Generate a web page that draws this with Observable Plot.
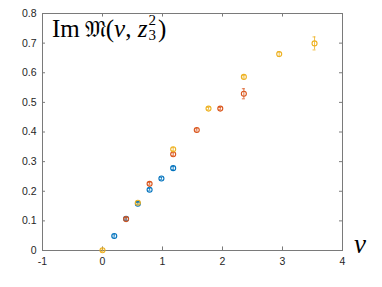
<!DOCTYPE html>
<html><head><meta charset="utf-8">
<script src="https://cdn.jsdelivr.net/npm/d3@7"></script>
<script src="https://cdn.jsdelivr.net/npm/@observablehq/plot@0.6"></script>
<style>
body{margin:0;background:#fff;}
#wrap{position:relative;width:382px;height:287px;}
#title{position:absolute;left:52px;top:13px;font-family:"Liberation Serif","DejaVu Serif",serif;font-size:25px;color:#000;white-space:nowrap;line-height:1;}
#title .fk{font-family:"DejaVu Serif",serif;font-size:23px;margin-left:5px;}
#title .it{font-style:italic;}
#title .ss{display:inline-block;vertical-align:-3px;font-size:15px;line-height:1;margin-left:1px;margin-right:2px;}
#title .ss span{display:block;}
#xl{position:absolute;left:354px;top:229px;font-family:"Liberation Serif","DejaVu Serif",serif;font-style:italic;font-size:27px;}
</style></head>
<body><div id="wrap"><div id="title">Im<span class="fk">𝔐</span>(<span class="it">ν</span>, <span class="it">z</span><span class="ss"><span>2</span><span>3</span></span>)</div><div id="xl">ν</div></div>
<script>
const xTicks = [-1, 0, 1, 2, 3, 4];
const yTicks = [0, 0.1, 0.2, 0.3, 0.4, 0.5, 0.6, 0.7, 0.8];
const blueX = [0.196, 0.393, 0.589, 0.785, 0.982, 1.178];
const blueY = [0.049, 0.107, 0.158, 0.205, 0.243, 0.278];
const blueE = [0.004, 0.004, 0.004, 0.004, 0.004, 0.005];
const redX = [0.393, 0.785, 1.178, 1.571, 1.963, 2.356];
const redY = [0.106, 0.225, 0.325, 0.407, 0.479, 0.529];
const redE = [0.004, 0.004, 0.005, 0.004, 0.004, 0.017];
const yelX = [0, 0.589, 1.178, 1.767, 2.356, 2.945, 3.534];
const yelY = [0.001, 0.161, 0.342, 0.479, 0.586, 0.663, 0.699];
const yelE = [0.004, 0.004, 0.005, 0.004, 0.004, 0.008, 0.022];
const colors = {blue: "#0072BD", red: "#D95319", yellow: "#EDB120"};

const pts = [];
blueX.forEach((x,i)=>pts.push({s:"blue", x, y: blueY[i], e: blueE[i]}));
redX.forEach((x,i)=>pts.push({s:"red", x, y: redY[i], e: redE[i]}));
yelX.forEach((x,i)=>pts.push({s:"yellow", x, y: yelY[i], e: yelE[i]}));

const axisColor = "#7a7a7a";
const tl = 0.012, tlx = 0.05, cap = 0.025;
const chart = Plot.plot({
  width: 382, height: 287,
  marginLeft: 42, marginRight: 40, marginTop: 13, marginBottom: 37,
  x: {domain: [-1, 4], label: null},
  y: {domain: [0, 0.8], label: null},
  style: {fontFamily: "Helvetica, Arial, 'Liberation Sans', sans-serif", fontSize: "10.5px", color: "#262626"},
  marks: [
    Plot.frame({stroke: axisColor, strokeWidth: 1}),
    Plot.axisX({ticks: xTicks, tickSize: 0, tickPadding: 7, label: null, tickFormat: d => d < 0 ? "-" + Math.abs(d) : String(d), fill: "#262626"}),
    Plot.axisY({ticks: yTicks, tickSize: 0, tickPadding: 6, label: null, tickFormat: d => d === 0 ? "0" : d3.format(".1f")(d), fill: "#262626"}),
    Plot.ruleX(xTicks, {x: d => d, y1: 0, y2: tl, stroke: axisColor}),
    Plot.ruleX(xTicks, {x: d => d, y1: 0.8 - tl, y2: 0.8, stroke: axisColor}),
    Plot.ruleY(yTicks, {y: d => d, x1: -1, x2: -1 + tlx, stroke: axisColor}),
    Plot.ruleY(yTicks, {y: d => d, x1: 4 - tlx, x2: 4, stroke: axisColor}),
    Plot.ruleX(pts, {x: "x", y1: d => d.y - d.e, y2: d => d.y + d.e, stroke: d => colors[d.s], strokeWidth: 0.8}),
    Plot.ruleY(pts, {y: d => d.y - d.e, x1: d => d.x - cap, x2: d => d.x + cap, stroke: d => colors[d.s], strokeWidth: 0.8}),
    Plot.ruleY(pts, {y: d => d.y + d.e, x1: d => d.x - cap, x2: d => d.x + cap, stroke: d => colors[d.s], strokeWidth: 0.8}),
    Plot.dot(pts, {x: "x", y: "y", r: 2.5, stroke: d => colors[d.s], strokeWidth: 1.1, fill: "none"})
  ]
});
document.getElementById("wrap").prepend(chart);
chart.style.position = "absolute"; chart.style.left = "0"; chart.style.top = "0";
</script>
</body></html>
